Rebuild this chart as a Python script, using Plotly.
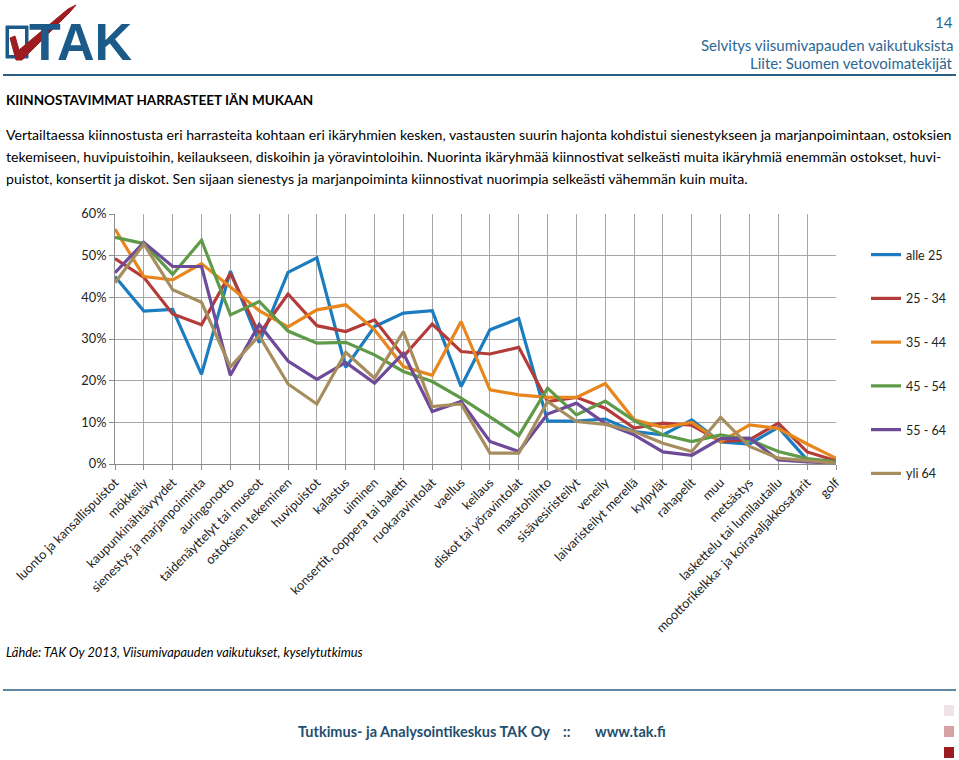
import plotly.graph_objects as go

categories = [
    "luonto ja kansallispuistot", "mökkeily", "kaupunkinähtävyydet",
    "sienestys ja marjanpoiminta", "auringonotto", "taidenäyttelyt tai museot",
    "ostoksien tekeminen", "huvipuistot", "kalastus", "uiminen",
    "konsertit, ooppera tai baletti", "ruokaravintolat", "vaellus", "keilaus",
    "diskot tai yöravintolat", "maastohiihto", "sisävesiristeilyt", "veneily",
    "laivaristeilyt merellä", "kylpylät", "rahapelit", "muu", "metsästys",
    "laskettelu tai lumilautailu", "moottorikelkka- ja koiravaljakkosafarit", "golf",
]

alle_25 = [45.0, 36.7, 37.1, 21.5, 46.3, 29.1, 46.0, 49.5, 23.2, 33.0, 36.2, 36.8, 18.6, 32.2,
           34.9, 10.3, 10.3, 10.8, 7.8, 7.0, 10.6, 5.3, 4.8, 8.8, 1.0, 0.6]
v25_34 = [49.3, 44.8, 36.0, 33.4, 45.8, 31.2, 40.8, 33.2, 31.8, 34.6, 25.8, 33.6, 27.0, 26.4,
          28.0, 15.0, 16.0, 13.4, 8.6, 9.8, 9.3, 5.4, 5.8, 9.8, 2.9, 0.8]
v35_44 = [56.4, 45.0, 44.2, 48.1, 42.5, 36.8, 32.9, 37.0, 38.2, 32.2, 23.4, 21.3, 34.2, 17.8,
          16.6, 16.0, 16.0, 19.3, 10.6, 8.8, 10.0, 5.3, 9.4, 8.5, 4.8, 1.4]
v45_54 = [54.4, 52.9, 45.5, 53.7, 35.8, 39.0, 31.9, 29.0, 29.2, 26.2, 22.2, 19.8, 15.8, 11.4,
          6.8, 18.2, 11.8, 15.1, 10.4, 7.0, 5.4, 7.0, 5.8, 3.0, 1.3, 0.6]
v55_64 = [45.9, 53.2, 47.4, 47.4, 21.3, 33.5, 24.7, 20.3, 24.4, 19.4, 26.6, 12.6, 15.0, 5.4,
          3.0, 12.0, 14.6, 9.7, 7.0, 2.9, 2.1, 6.1, 6.2, 1.0, 0.5, 0.2]
yli_64 = [43.5, 52.8, 41.8, 38.8, 23.3, 30.8, 19.2, 14.4, 26.8, 20.6, 31.8, 13.8, 14.4, 2.6,
          2.6, 15.0, 10.2, 9.5, 7.8, 5.0, 3.0, 11.2, 4.2, 1.4, 0.8, 0.2]

series_names = ["alle 25", "25 - 34", "35 - 44", "45 - 54", "55 - 64", "yli 64"]
series_values = [alle_25, v25_34, v35_44, v45_54, v55_64, yli_64]
series_colors = ["#1B7CBF", "#B33C3A", "#E8861E", "#5E9A48", "#6E4B99", "#A68D5E"]

y_ticks = [0, 0.1, 0.2, 0.3, 0.4, 0.5, 0.6]

W, H = 959, 760
L, R, T, B = 115, 123, 214, 296
PW, PH = W - L - R, H - T - B


def px(x):
    return (x - L) / PW


def py(y):
    return (H - B - y) / PH


fig = go.Figure()
for name, vals, col in zip(series_names, series_values, series_colors):
    fig.add_trace(go.Scatter(
        x=categories, y=[v / 100 for v in vals], name=name, mode="lines",
        line=dict(color=col, width=3.2), legendgroup=name,
    ))

font_main = "Lato, 'Open Sans', sans-serif"

fig.update_layout(
    width=W, height=H,
    margin=dict(l=L, r=R, t=T, b=B, autoexpand=False),
    paper_bgcolor="white", plot_bgcolor="white",
    font=dict(family=font_main, size=12, color="#222222"),
    showlegend=True,
    legend=dict(
        x=px(866), y=py(240), xanchor="left", yanchor="top",
        font=dict(size=12.5, color="#222222"), tracegroupgap=24.5,
        itemwidth=30, bgcolor="rgba(0,0,0,0)",
    ),
    xaxis=dict(
        type="category", range=[0, len(categories) - 1],
        showgrid=True, gridcolor="#A6A6A6", gridwidth=1,
        showline=True, linecolor="#8C8C8C", linewidth=1,
        ticks="outside", ticklen=5, tickcolor="#8C8C8C",
        tickangle=-45, tickfont=dict(size=12.8, color="#222222"),
    ),
    yaxis=dict(
        range=[0, 0.6], tickvals=y_ticks, tickformat=".0%",
        showgrid=True, gridcolor="#A6A6A6", gridwidth=1,
        showline=True, linecolor="#8C8C8C", linewidth=1,
        ticks="outside", ticklen=5, tickcolor="#8C8C8C",
        tickfont=dict(size=12.8, color="#222222"), zeroline=False,
    ),
)

annotations = []


def text(x, y, s, size=13, color="#000000", anchor="left", bold=False, italic=False, family=font_main):
    if bold:
        s = "<b>" + s + "</b>"
    if italic:
        s = "<i>" + s + "</i>"
    annotations.append(dict(
        x=px(x), y=py(y), xref="paper", yref="paper", text=s, showarrow=False,
        xanchor=anchor, yanchor="middle", font=dict(size=size, color=color, family=family),
    ))


hdr_blue = "#2B6795"
text(955, 22, "14", size=15, color=hdr_blue, anchor="right")
text(955, 45, "Selvitys viisumivapauden vaikutuksista", size=15, color=hdr_blue, anchor="right")
text(955, 63, "Liite: Suomen vetovoimatekijät", size=15, color=hdr_blue, anchor="right")
text(4, 100, "KIINNOSTAVIMMAT HARRASTEET IÄN MUKAAN", size=13.5, bold=True)

para = [
    "Vertailtaessa kiinnostusta eri harrasteita kohtaan eri ikäryhmien kesken, vastausten suurin hajonta kohdistui sienestykseen ja marjanpoimintaan, ostoksien",
    "tekemiseen, huvipuistoihin, keilaukseen, diskoihin ja yöravintoloihin. Nuorinta ikäryhmää kiinnostivat selkeästi muita ikäryhmiä enemmän ostokset, huvi-",
    "puistot, konsertit ja diskot. Sen sijaan sienestys ja marjanpoiminta kiinnostivat nuorimpia selkeästi vähemmän kuin muita.",
]
for i, line in enumerate(para):
    text(4, 134 + 22.3 * i, line, size=14.1)

text(4, 652, "Lähde: TAK Oy 2013, Viisumivapauden vaikutukset, kyselytutkimus", size=12.8, italic=True)

foot_col = "#1F4E6E"
text(296, 731, "Tutkimus- ja Analysointikeskus TAK Oy", size=14.5, color=foot_col, bold=True)
text(566, 731, "::", size=14.5, color=foot_col, bold=True, anchor="center")
text(593, 731, "www.tak.fi", size=14.5, color=foot_col, bold=True)

# logo text
annotations.append(dict(
    x=px(27), y=py(42), xref="paper", yref="paper", text="<b>TAK</b>", showarrow=False,
    xanchor="left", yanchor="middle",
    font=dict(size=52, color="#1C5A8A", family="'Liberation Sans', Arial, sans-serif"),
))

shapes = []


def line(x0, y0, x1, y1, color, width):
    shapes.append(dict(type="line", xref="paper", yref="paper", x0=px(x0), y0=py(y0),
                       x1=px(x1), y1=py(y1), line=dict(color=color, width=width)))


def rect(x0, y0, x1, y1, fill, outline=None, width=0):
    shapes.append(dict(type="rect", xref="paper", yref="paper", x0=px(x0), y0=py(y0),
                       x1=px(x1), y1=py(y1), fillcolor=fill,
                       line=dict(color=outline or fill, width=width)))


line(3, 75, 956, 75, "#2A5F86", 2)
line(3, 690, 956, 690, "#2A5F86", 1.5)

rect(944, 705, 954, 716, "#F1E3E5")
rect(944, 726, 954, 737, "#D6A0A5")
rect(944, 747, 954, 758, "#9C1C22")

# logo box
rect(6, 26, 28, 58, "#1C5A8A", "#1C5A8A", 1)
rect(9, 29, 25, 55, "white", "white", 0)

# red checkmark path
pts = [(10, 38), (15, 36), (19, 50), (68, 9), (76, 5), (70, 12), (22, 60), (16, 60)]
path = "M " + " L ".join(f"{px(x)},{py(y)}" for x, y in pts) + " Z"
shapes.append(dict(type="path", xref="paper", yref="paper", path=path,
                   fillcolor="#9C1C22", line=dict(color="#9C1C22", width=1)))

fig.update_layout(annotations=annotations, shapes=shapes)

fig.write_html(
    "out.html",
    config={"displayModeBar": False},
    post_script="document.body.style.margin='0px';document.body.style.overflow='hidden';",
)
